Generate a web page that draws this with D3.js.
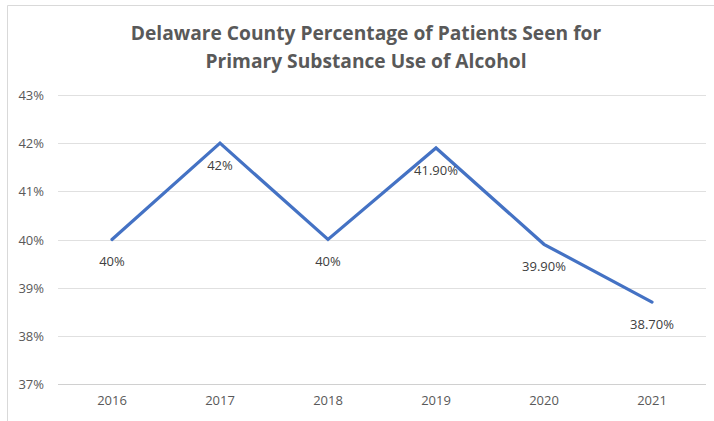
<!DOCTYPE html>
<html><head><meta charset="utf-8">
<script src="https://cdn.jsdelivr.net/npm/d3@7"></script>
<style>body{margin:0;background:#fff}svg{display:block}</style>
</head><body><svg id="c" width="714" height="421"></svg>
<script>
const years = ["2016","2017","2018","2019","2020","2021"];
const values = [40, 42, 40, 41.9, 39.9, 38.7];
const labels = ["40%","42%","40%","41.90%","39.90%","38.70%"];
const yTicks = [37,38,39,40,41,42,43];
const titleLines = ["Delaware County Percentage of Patients Seen for","Primary Substance Use of Alcohol"];

const svg = d3.select("#c");
const W=714,H=421;
svg.append("rect").attr("x",0).attr("y",0).attr("width",W).attr("height",H).attr("fill","#fff");
// chart border
svg.append("path").attr("d","M7.5,421 V5.5 H714").attr("fill","none").attr("stroke","#d9d9d9").attr("stroke-width",1);

const m={l:58,r:706,t:95,b:384};
const x=d3.scaleBand().domain(years).range([m.l,m.r]);
const y=d3.scaleLinear().domain([37,43]).range([m.b,m.t]);
const font="'Open Sans', sans-serif";

// gridlines
svg.append("g").selectAll("line").data(yTicks).join("line")
  .attr("x1",m.l).attr("x2",m.r)
  .attr("y1",d=>Math.round(y(d))+0.5).attr("y2",d=>Math.round(y(d))+0.5)
  .attr("stroke",d=>d===37?"#d0d0d0":"#e0e0e0").attr("stroke-width",1);

// y axis labels
const yAxis=d3.axisLeft(y).tickValues(yTicks).tickFormat(d=>d+"%").tickSize(0).tickPadding(0);
const gy=svg.append("g").attr("transform",`translate(${m.l-14},0)`).call(yAxis);
gy.select(".domain").remove();
gy.selectAll("text").attr("fill","#595959").style("font-family",font).style("font-size","13px").attr("dy","0.35em");

// x axis labels
const xAxis=d3.axisBottom(x).tickSize(0).tickPadding(0);
const gx=svg.append("g").attr("transform",`translate(0,${m.b+12})`).call(xAxis);
gx.select(".domain").remove();
gx.selectAll("text").attr("fill","#595959").style("font-family",font).style("font-size","13px").attr("dy","0.71em");

// line
const cx=d=>x(d)+x.bandwidth()/2;
const line=d3.line().x((d,i)=>cx(years[i])).y(d=>y(d));
svg.append("path").datum(values).attr("d",line).attr("fill","none")
  .attr("stroke","#4472c4").attr("stroke-width",3.2).attr("stroke-linejoin","miter").attr("stroke-linecap","round");

// data labels
svg.append("g").selectAll("text").data(values).join("text")
  .attr("x",(d,i)=>cx(years[i])).attr("y",d=>y(d)+22).attr("dy","0.35em")
  .attr("text-anchor","middle").attr("fill","#404040")
  .style("font-family",font).style("font-size","13px")
  .text((d,i)=>labels[i]);

// title
svg.append("g").selectAll("text").data(titleLines).join("text")
  .attr("x",366).attr("y",(d,i)=>40+i*28).attr("text-anchor","middle")
  .attr("fill","#595959").style("font-family",font).style("font-size","19.2px").style("font-weight","bold")
  .text(d=>d);
</script></body></html>
